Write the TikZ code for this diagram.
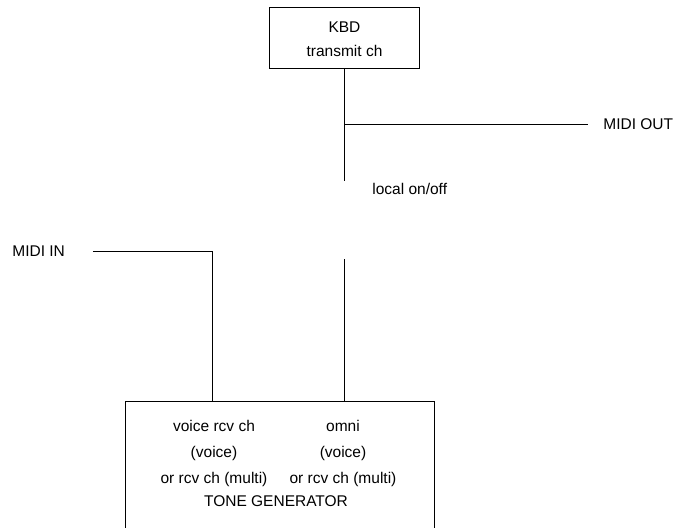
\documentclass[tikz,border=0pt]{standalone}
\usepackage{fontspec}
\setmainfont{Liberation Sans}
\usetikzlibrary{positioning}

\begin{document}
\begin{tikzpicture}[x=1pt,y=-1pt,line width=0.8pt,
                    every node/.style={font=\fontsize{15.5}{18}\selectfont},
                    box/.style={draw,inner sep=0pt},
                    lbl/.style={inner sep=0pt,text height=11pt,text depth=0pt}]
  \useasboundingbox (0,0) rectangle (692,527);
  \clip (0,0) rectangle (692,527);
  % keyboard
  \node[box,minimum width=150pt,minimum height=61pt] (kbd) at (344.5,37.5) {};
  \node[lbl] (kbdname) at (344.5,27) {KBD};
  \node[lbl] (kbdch) [below=12pt of kbdname] {transmit ch};
  % tone generator (runs off the bottom)
  \node[box,minimum width=309pt,minimum height=200pt,anchor=north] (tg) at (279.5,401) {};
  \node[lbl] (rcv) at (214,426) {voice rcv ch};
  \node[lbl] (rcvv) [below=14pt of rcv] {(voice)};
  \node[lbl] (rcvm) [below=14pt of rcvv] {or rcv ch (multi)};
  \node[lbl] (omni) at (343,426) {omni};
  \node[lbl] (omniv) [below=14pt of omni] {(voice)};
  \node[lbl] (omnim) [below=14pt of omniv] {or rcv ch (multi)};
  \node[lbl] (tgname) at (276,501) {TONE GENERATOR};
  % labels
  \node[lbl,anchor=west] (midiout) at (603,124) {MIDI OUT};
  \node[lbl,anchor=west] (midiin) at (12,251) {MIDI IN};
  \node[lbl,anchor=west] (local) at (372,189) {local on/off};
  \coordinate (jn) at (344.5,124);
  \coordinate (topend) at (344.5,181);
  \coordinate (botstart) at (344.5,259);
  \coordinate (indrop) at (212,251);
  % connections
  \draw (kbd.south) -- (topend);
  \draw[shorten >=15pt] (jn) -- (midiout.west);
  \draw (botstart) -- (botstart |- tg.north);
  \draw[shorten <=27.5pt] (midiin.east) -- (indrop) -- (indrop |- tg.north);
\end{tikzpicture}
\end{document}
